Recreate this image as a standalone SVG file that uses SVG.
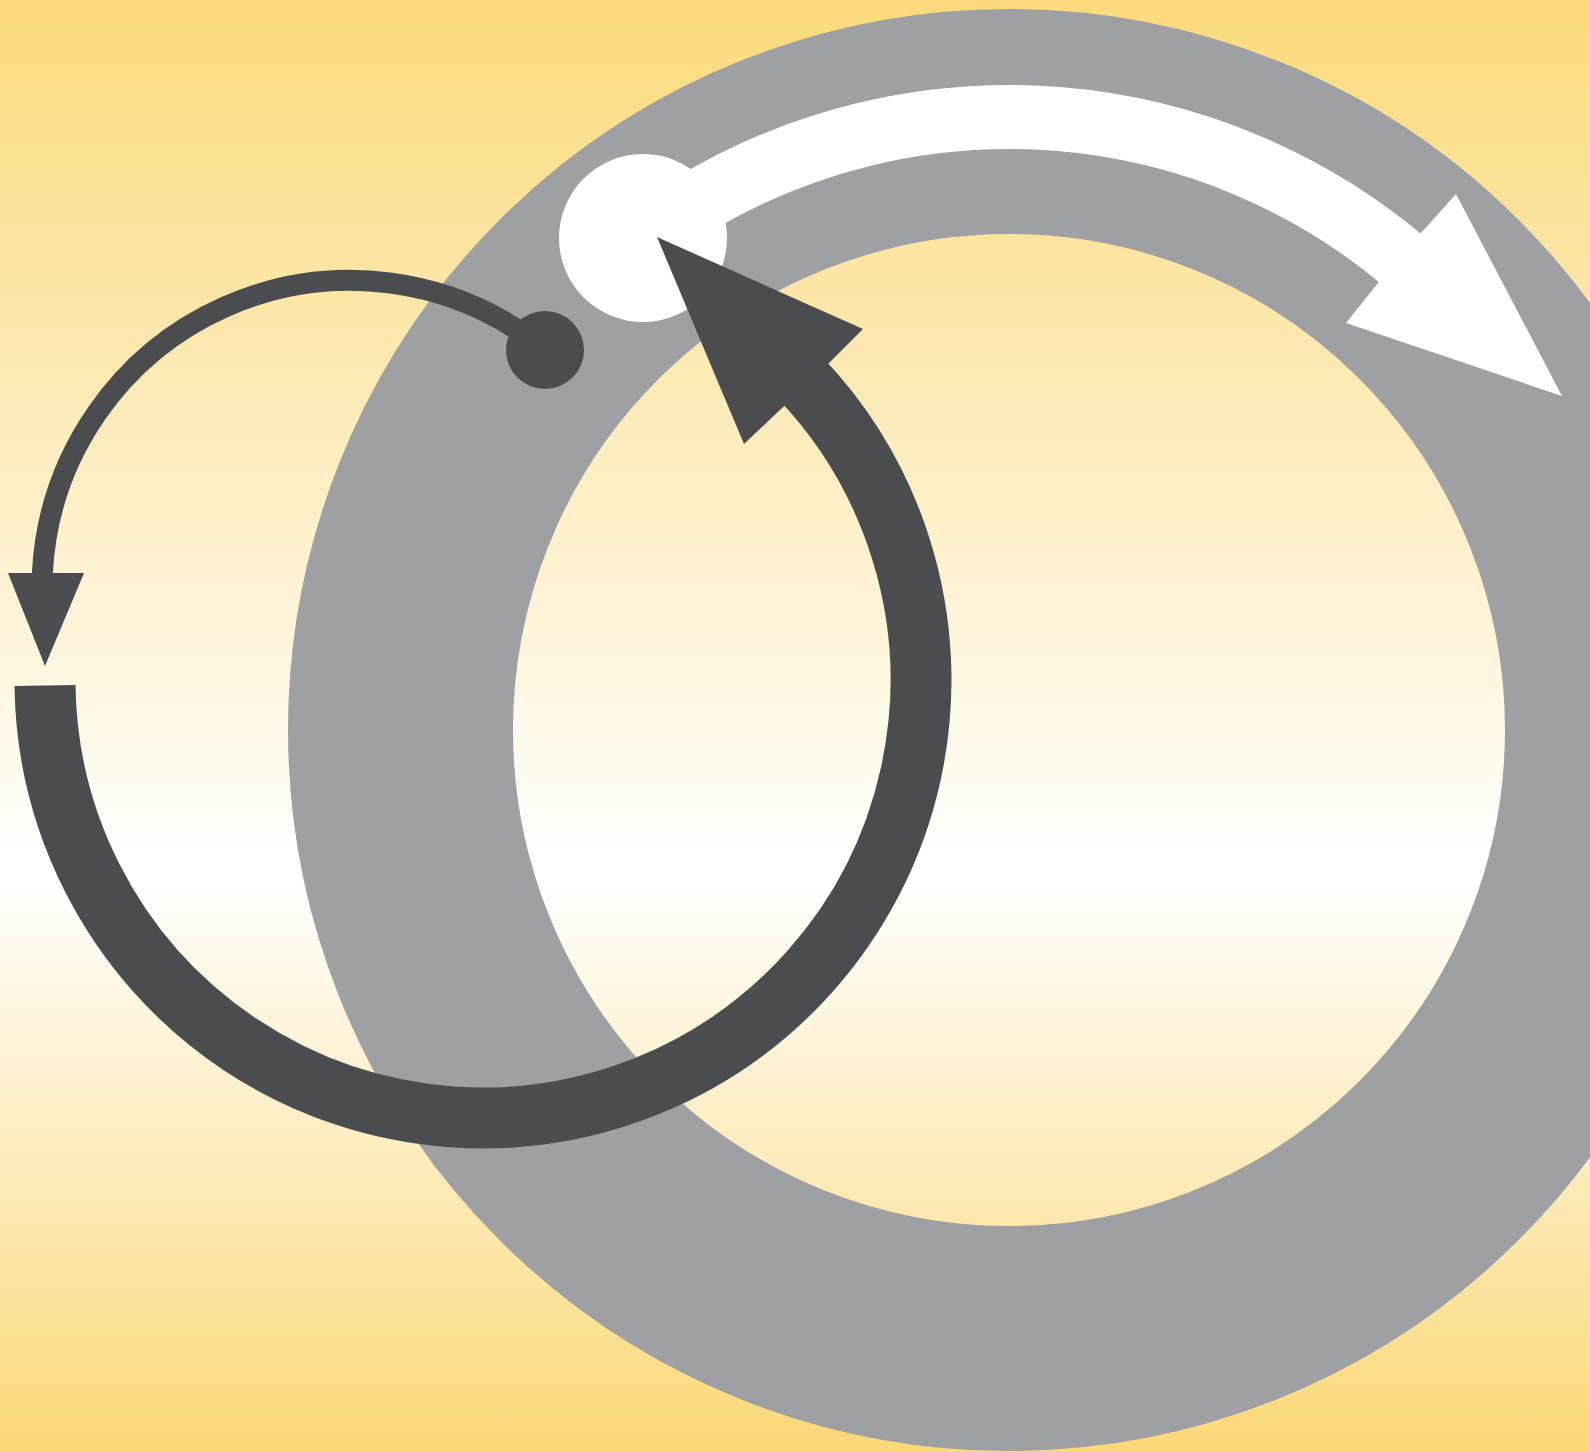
<svg xmlns="http://www.w3.org/2000/svg" width="1590" height="1452" viewBox="0 0 1590 1452">
<defs>
<linearGradient id="bg" x1="0" y1="0" x2="0" y2="1452" gradientUnits="userSpaceOnUse">
<stop offset="0" stop-color="#FBDA7B"/>
<stop offset="0.603" stop-color="#FFFFFF"/>
<stop offset="1" stop-color="#FBD877"/>
</linearGradient>
<style>
.dark{fill:#4B4C4F}
.darkline{fill:none;stroke:#4B4C4F;stroke-linecap:butt}
.white{fill:#FFFFFF}
.whiteline{fill:none;stroke:#FFFFFF;stroke-linecap:butt}
</style>
</defs>
<rect x="0" y="0" width="1590" height="1452" fill="url(#bg)"/>
<g id="ring">
<circle cx="1009" cy="730" r="608.5" fill="none" stroke="#9FA0A4" stroke-width="225"/>
</g>
<g id="connectors">
<g id="white-arrow">
<path class="whiteline" d="M 690.2 206.5 A 613 613 0 0 1 1406.3 263.2" stroke-width="64"/>
<polygon class="white" points="1421,233 1456,194 1562,396 1346,323 1378,283"/>
</g>
<g id="thin-arrow">
<path class="darkline" d="M 545 350 A 308 308 0 0 0 42.4 573 L 42 578" stroke-width="21"/>
<polygon class="dark" points="8,573 84,573 45,666"/>
</g>
</g>
<g id="white-node">
<circle class="white" cx="643" cy="238" r="84"/>
</g>
<g id="dark-node">
<circle class="dark" cx="545" cy="350" r="39"/>
</g>
<g id="dark-arrow">
<path class="darkline" d="M 45 685.5 A 438 438 0 1 0 801.1 378.9" stroke-width="61"/>
<polygon class="dark" points="825,367 863,329 657,237 744,444 781,409"/>
</g>
</svg>
